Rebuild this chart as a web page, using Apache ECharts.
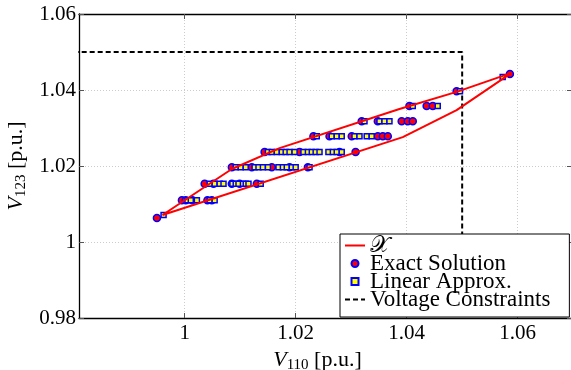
<!DOCTYPE html>
<html>
<head>
<meta charset="utf-8">
<script src="https://cdn.jsdelivr.net/npm/echarts@6/dist/echarts.min.js"></script>
<style>
  html, body { margin: 0; padding: 0; background: #fff; }
  #chart { width: 571px; height: 370px; }
</style>
</head>
<body>
<div id="chart"></div>
<script>
// V110 / V123 voltages [p.u.]
const xTicks = [1, 1.02, 1.04, 1.06];

// boundary of the feasible set X (upper edge left->right, then lower edge back)
const regionV110 = [0.9960, 1.0085, 1.0171, 1.0387, 1.0490, 1.0589, 1.0490, 1.0393, 0.9960];
const regionV123 = [1.0071, 1.0192, 1.0247, 1.0350, 1.0395, 1.0445, 1.0347, 1.0276, 1.0071];

// exact solution points, grouped by V123 level
const exactLevels = [1.0063, 1.0110, 1.0153, 1.0197, 1.0237, 1.0278, 1.0318, 1.0358, 1.0397, 1.0442];
const exactV110 = [
    [0.9950],
    [0.9995, 1.0002, 1.0014, 1.0041, 1.0049],
    [1.0036, 1.0052, 1.0085, 1.0099, 1.0130],
    [1.0085, 1.0121, 1.0157, 1.0189, 1.0222],
    [1.0144, 1.0207, 1.0279, 1.0308],
    [1.0232, 1.0261, 1.0301, 1.0348, 1.0357, 1.0366],
    [1.0319, 1.0348, 1.0391, 1.0402, 1.0411],
    [1.0405, 1.0436, 1.0447],
    [1.0490],
    [1.0586]
];

// linear approximation points
const approxLevels = [1.0071, 1.0110, 1.0153, 1.0197, 1.0237, 1.0278, 1.0318, 1.0358, 1.0397, 1.0434];
const approxV110 = [
    [0.9962],
    [1.0005, 1.0011, 1.0022, 1.0045, 1.0054],
    [1.0045, 1.0054, 1.0063, 1.0070, 1.0086, 1.0092, 1.0097, 1.0105, 1.0110, 1.0115, 1.0137],
    [1.0092, 1.0101, 1.0110, 1.0126, 1.0133, 1.0141, 1.0150, 1.0169, 1.0177, 1.0184, 1.0193, 1.0200, 1.0225],
    [1.0150, 1.0157, 1.0166, 1.0175, 1.0182, 1.0189, 1.0198, 1.0214, 1.0222, 1.0229, 1.0236, 1.0243, 1.0259, 1.0267, 1.0274, 1.0283],
    [1.0238, 1.0265, 1.0274, 1.0283, 1.0306, 1.0315, 1.0328, 1.0337],
    [1.0324, 1.0351, 1.0360, 1.0369],
    [1.0411, 1.0456],
    [1.0496],
    [1.0573]
];

// voltage constraint corner
const limitV110 = [0.98, 1.05, 1.05];
const limitV123 = [1.05, 1.05, 0.98];

const font = '"Liberation Serif", "DejaVu Serif", serif';

function rowsToPoints(levels, rows) {
    let pts = [];
    rows.forEach((row, i) => {
        row.forEach(x => pts.push([x, levels[i]]));
    });
    return pts;
}

var myChart = echarts.init(document.getElementById('chart'));

var gridLine = { show: true, lineStyle: { color: '#cccccc', type: [1, 2], width: 1 } };
var tickStyle = { show: true, inside: true, length: 5, lineStyle: { color: '#555' } };
var nameRich = {
    i: { fontFamily: font, fontSize: 22, fontStyle: 'italic', color: '#000' },
    s: { fontFamily: font, fontSize: 15, color: '#000', padding: [10, 0, 0, 0] }
};

var option = {
    animation: false,
    backgroundColor: '#fff',
    grid: { left: 79, top: 14, width: 493, height: 304, outerBoundsMode: 'none', containLabel: false },
    xAxis: [{
        type: 'value',
        min: 0.98096,
        max: 1.06979,
        axisLine: { lineStyle: { color: '#000', width: 1.3 } },
        axisTick: Object.assign({ customValues: xTicks }, tickStyle),
        axisLabel: {
            customValues: xTicks,
            margin: 5,
            color: '#000',
            fontFamily: font,
            fontSize: 21
        },
        splitLine: gridLine,
        name: '{i|V}{s|110} [p.u.]',
        nameLocation: 'middle',
        nameGap: 23,
        nameTextStyle: {
            color: '#000',
            fontFamily: font,
            fontSize: 22,
            padding: [0, 16, 0, 0],
            rich: nameRich
        }
    }, {
        type: 'value',
        position: 'top',
        min: 0.98096,
        max: 1.06979,
        axisLine: { show: true, lineStyle: { color: '#000', width: 1.3 } },
        axisTick: Object.assign({ customValues: xTicks }, tickStyle),
        axisLabel: { show: false },
        splitLine: { show: false }
    }],
    yAxis: [{
        type: 'value',
        min: 0.98,
        max: 1.06,
        interval: 0.02,
        axisLine: { show: true, lineStyle: { color: '#000', width: 1.3 } },
        axisTick: tickStyle,
        axisLabel: {
            margin: 3,
            color: '#000',
            fontFamily: font,
            fontSize: 21
        },
        splitLine: gridLine,
        name: '{i|V}{s|123} [p.u.]',
        nameLocation: 'middle',
        nameGap: 44,
        nameTextStyle: {
            color: '#000',
            fontFamily: font,
            fontSize: 22,
            rich: nameRich
        }
    }, {
        type: 'value',
        position: 'right',
        min: 0.98,
        max: 1.06,
        interval: 0.02,
        axisLine: { show: true, lineStyle: { color: '#000', width: 1.3 } },
        axisTick: tickStyle,
        axisLabel: { show: false },
        splitLine: { show: false }
    }],
    legend: {
        orient: 'vertical',
        left: 340,
        top: 234,
        backgroundColor: '#fff',
        borderColor: '#000',
        borderWidth: 1,
        borderRadius: 0,
        padding: [0, 19, 6, 4],
        itemGap: -5,
        itemWidth: 20,
        itemHeight: 7,
        symbolKeepAspect: true,
        textStyle: { fontFamily: font, fontSize: 23, color: '#000' },
        data: [
            { name: '𝒳', itemStyle: { color: 'transparent', borderWidth: 0 } },
            { name: 'Exact Solution', icon: 'circle' },
            { name: 'Linear Approx.', icon: 'path://M0,0H10V10H0Z' },
            { name: 'Voltage Constraints', itemStyle: { color: 'transparent', borderWidth: 0 } }
        ]
    },
    series: [{
        name: 'Voltage Constraints',
        type: 'line',
        symbol: 'none',
        z: 2,
        lineStyle: { color: '#000', width: 2, type: [5, 3] },
        itemStyle: { color: '#000' },
        data: limitV110.map((x, i) => [x, limitV123[i]])
    }, {
        name: 'Exact Solution',
        type: 'scatter',
        symbol: 'circle',
        symbolSize: 7,
        z: 3,
        itemStyle: { color: '#ff0000', borderColor: '#0000ff', borderWidth: 1.5, opacity: 1 },
        data: rowsToPoints(exactLevels, exactV110)
    }, {
        name: 'Linear Approx.',
        type: 'scatter',
        symbol: 'rect',
        symbolSize: 5,
        z: 4,
        itemStyle: { color: '#ffff00', borderColor: '#0000ff', borderWidth: 1.5, opacity: 1 },
        data: rowsToPoints(approxLevels, approxV110)
    }, {
        name: '𝒳',
        type: 'line',
        symbol: 'none',
        z: 5,
        lineStyle: { color: '#ff0000', width: 2 },
        itemStyle: { color: '#ff0000' },
        data: regionV110.map((x, i) => [x, regionV123[i]])
    }]
};
myChart.setOption(option);
</script>
</body>
</html>
